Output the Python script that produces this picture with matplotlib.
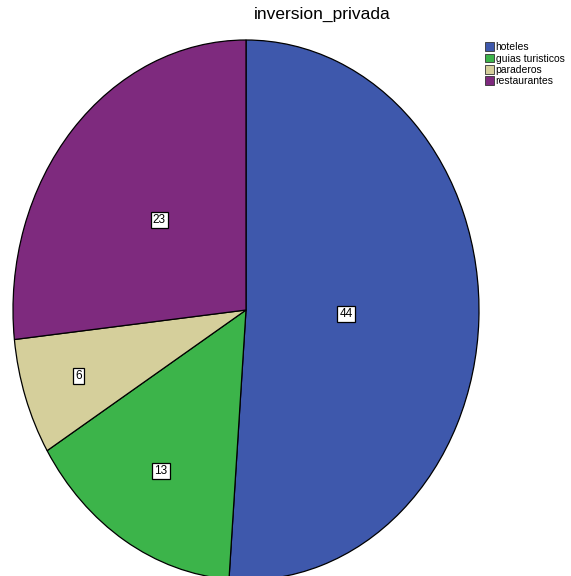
import numpy as np
from matplotlib import pyplot as plt
from matplotlib.patches import Patch

# Data
categories = ['hoteles', 'guias turisticos', 'paraderos', 'restaurantes']
values = [44, 13, 6, 23]
colors = ['#3E58AC', '#3CB44A', '#D5CF9B', '#7E2A7E']
label_r = [0.43, 0.7, 0.76, 0.5]

plt.rcParams['font.family'] = ['Liberation Sans', 'DejaVu Sans']

fig = plt.figure(figsize=(5.71, 5.76), dpi=100)
ax = fig.add_axes([13/571, -4/576, 466/571, 540/576])

wedges, _ = ax.pie(values, colors=colors, startangle=90, counterclock=False,
                   wedgeprops=dict(edgecolor='black', linewidth=0.9))
ax.set_aspect('auto')
ax.set_xlim(-1, 1)
ax.set_ylim(-1, 1)

# value labels inside each wedge
for w, v, r in zip(wedges, values, label_r):
    ang = np.deg2rad((w.theta1 + w.theta2) / 2)
    ax.text(r * np.cos(ang), r * np.sin(ang), str(v), ha='center', va='center',
            fontsize=8.5, bbox=dict(facecolor='white', edgecolor='black', pad=1.5, linewidth=0.9))

fig.text(322/571, 1 - 14/576, 'inversion_privada', ha='center', va='center', fontsize=12.5)

handles = [Patch(facecolor=c, edgecolor='#333333', linewidth=0.6) for c in colors]
fig.legend(handles, categories, loc='upper left', bbox_to_anchor=(478/571, 1 - 35/576),
           frameon=False, fontsize=7.5, handlelength=0.8, handleheight=0.9,
           handletextpad=0.2, labelspacing=0.12, borderpad=0.2)

plt.savefig('out.png', dpi=100)
